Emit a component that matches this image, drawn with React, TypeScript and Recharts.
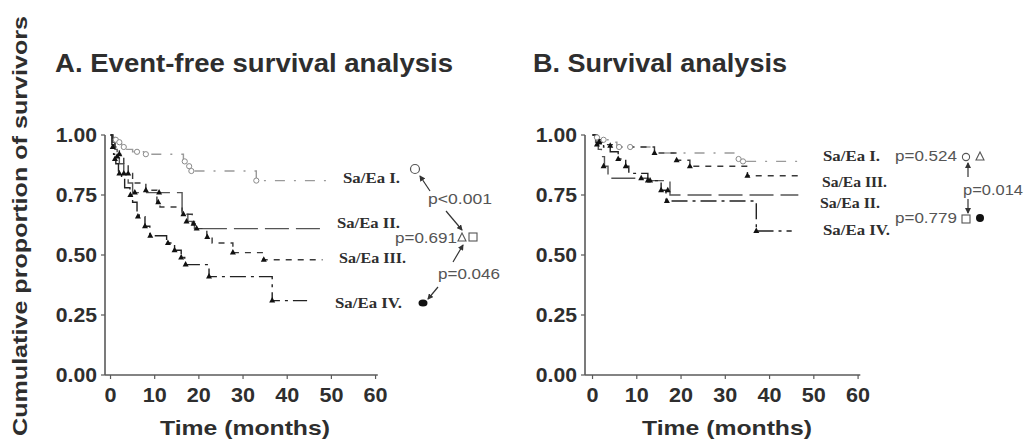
import React from 'react';
import { ComposedChart, Line, Scatter, XAxis, YAxis, ReferenceLine } from 'recharts';

// ---------- data ----------
const timeTicks = [0, 10, 20, 30, 40, 50, 60];
const survTicks = [0, 0.25, 0.5, 0.75, 1];
const groupLabels = ['Sa/Ea I.', 'Sa/Ea II.', 'Sa/Ea III.', 'Sa/Ea IV.'];

// A. Event-free survival (time in months, cumulative proportion)
const efsI = [[0, 1], [0.5, 0.99], [1, 0.98], [1.5, 0.97], [2.5, 0.96], [3.5, 0.94], [5, 0.93], [7.5, 0.92], [16.5, 0.89], [17.5, 0.87], [18.5, 0.85], [33, 0.81], [50, 0.81]];
const efsII = [[0, 1], [0.5, 0.97], [1, 0.94], [1.5, 0.91], [2, 0.88], [3, 0.84], [4, 0.8], [5, 0.76], [16.2, 0.67], [17.5, 0.64], [19, 0.61], [48, 0.61]];
const efsIII = [[0, 1], [0.5, 0.98], [1, 0.95], [2, 0.92], [3, 0.88], [4, 0.84], [5, 0.8], [8, 0.77], [10.5, 0.72], [11.2, 0.7], [16.2, 0.67], [18.5, 0.63], [19.5, 0.61], [21.8, 0.575], [23, 0.55], [27.7, 0.51], [34.5, 0.48], [48, 0.48]];
const efsIV = [[0, 1], [0.3, 0.96], [0.7, 0.92], [1.2, 0.88], [1.8, 0.85], [2.5, 0.82], [3.2, 0.78], [4.4, 0.75], [5, 0.72], [6, 0.68], [6.5, 0.66], [7.8, 0.62], [8.9, 0.58], [12.7, 0.55], [14.5, 0.52], [16, 0.49], [16.8, 0.46], [22.3, 0.41], [36.6, 0.31], [44.5, 0.31]];

const efsIcens = [[1.2, 0.98], [2, 0.97], [3, 0.95], [6, 0.93], [8, 0.92], [16.8, 0.89], [17.8, 0.87], [18.3, 0.85], [33, 0.81]];
const efsIIcens = [[1.5, 0.91], [3, 0.84], [5.5, 0.76], [11, 0.76], [17.2, 0.64], [19.5, 0.61]];
const efsIIIcens = [[2, 0.92], [4, 0.84], [8, 0.77], [10.8, 0.72], [16.5, 0.67], [18.8, 0.63], [21.9, 0.575], [27.7, 0.51], [34.7, 0.48]];
const efsIVcens = [[0.5, 0.95], [1, 0.9], [2, 0.84], [4.5, 0.75], [6.2, 0.66], [7.8, 0.62], [9, 0.58], [13, 0.55], [14.5, 0.52], [16, 0.49], [17, 0.46], [22.3, 0.41], [36.6, 0.31]];

// B. Overall survival
const osI = [[0, 1], [0.8, 0.99], [2, 0.98], [3.5, 0.97], [5.5, 0.95], [14, 0.925], [33, 0.9], [34.5, 0.89], [47.5, 0.89]];
const osII = [[0, 1], [0.7, 0.97], [1.3, 0.94], [2, 0.91], [2.7, 0.87], [3.5, 0.82], [12.5, 0.81], [17.5, 0.75], [46.5, 0.75]];
const osIII = [[0, 1], [0.5, 0.99], [1.5, 0.97], [3, 0.96], [5, 0.95], [14, 0.925], [19, 0.895], [22, 0.87], [35, 0.83], [47.5, 0.83]];
const osIV = [[0, 1], [1, 0.98], [2.5, 0.95], [4, 0.93], [5.8, 0.9], [7.5, 0.87], [8.2, 0.84], [12.5, 0.81], [15.5, 0.77], [16.6, 0.725], [37, 0.6], [45, 0.6]];

const osIcens = [[1, 0.99], [2.5, 0.98], [6, 0.95], [8.5, 0.95], [33, 0.9], [34, 0.89]];
const osIIcens = [[1, 0.96], [2.5, 0.87], [11, 0.82], [13, 0.81], [17, 0.77]];
const osIIIcens = [[1.5, 0.97], [4, 0.955], [14, 0.925], [19, 0.895], [22, 0.87], [35, 0.83]];
const osIVcens = [[1.5, 0.97], [5.8, 0.9], [7.5, 0.87], [12.5, 0.81], [15.5, 0.77], [16.8, 0.725], [37, 0.6]];

const toRows = (arr: number[][]) => arr.map(([t, s]) => ({ t, s }));

// ---------- styles ----------
const SANS = "'Liberation Sans', Arial, Helvetica, sans-serif";
const SERIF = "'Liberation Serif', 'Times New Roman', serif";
const AXIS = '#5a5a5a';
const TXT = '#2e2e2e';

const lineStyles = [
  { stroke: '#9a9a9a', dash: '10 9 2 9', width: 1.4 },
  { stroke: '#555555', dash: '24 7', width: 1.4 },
  { stroke: '#3a3a3a', dash: '6 6', width: 1.4 },
  { stroke: '#222222', dash: '16 5 3 5', width: 1.4 },
];

const XTick = (p: any) => (
  <g transform={`translate(${p.x},${p.y}) scale(1.08,1)`}>
    <text textAnchor="middle" dy="0.71em" fontSize={20} fontWeight="bold" fill={TXT} fontFamily={SANS}>
      {p.payload.value}
    </text>
  </g>
);
const YTick = (p: any) => (
  <g transform={`translate(${p.x},${p.y}) scale(1.06,1)`}>
    <text textAnchor="end" dy="0.36em" fontSize={20} fontWeight="bold" fill={TXT} fontFamily={SANS}>
      {Number(p.payload.value).toFixed(2)}
    </text>
  </g>
);

const OpenCircle = (p: any) => <circle cx={p.cx} cy={p.cy} r={2.6} fill="#fff" stroke="#8a8a8a" strokeWidth={1} />;
const Tri = (p: any) => (
  <polygon points={`${p.cx},${p.cy - 3.5} ${p.cx - 3},${p.cy + 2} ${p.cx + 3},${p.cy + 2}`} fill="#111" />
);

type PanelProps = {
  left: number;
  width: number;
  yAxisWidth: number;
  right: number;
  domain: [number, number];
  lines: number[][][];
  cens: number[][][];
};

function Panel({ left, width, yAxisWidth, right, domain, lines, cens }: PanelProps) {
  return (
    <div style={{ position: 'absolute', left, top: 0 }}>
      <ComposedChart width={width} height={441} margin={{ top: 135, right, bottom: 0, left: 0 }}>
        <XAxis
          dataKey="t"
          type="number"
          domain={domain}
          ticks={timeTicks}
          interval={0}
          allowDataOverflow
          axisLine={false}
          tickLine={{ stroke: AXIS, strokeWidth: 1.2 }}
          tickSize={4}
          tickMargin={9}
          height={66}
          tick={(p: any) => <XTick {...p} />}
        />
        <YAxis
          type="number"
          domain={[0, 1]}
          ticks={survTicks}
          interval={0}
          width={yAxisWidth}
          axisLine={{ stroke: AXIS, strokeWidth: 1.6 }}
          tickLine={{ stroke: AXIS, strokeWidth: 1.2 }}
          tickSize={4}
          tickMargin={4}
          tick={(p: any) => <YTick {...p} />}
        />
        <ReferenceLine
          segment={[{ x: domain[0], y: 0 }, { x: 60.5, y: 0 }]}
          stroke={AXIS}
          strokeWidth={1.6}
          ifOverflow="visible"
        />
        {lines.map((arr, i) => (
          <Line
            key={'l' + i}
            data={toRows(arr)}
            dataKey="s"
            type="stepAfter"
            stroke={lineStyles[i].stroke}
            strokeWidth={lineStyles[i].width}
            strokeDasharray={lineStyles[i].dash}
            dot={false}
            activeDot={false}
            isAnimationActive={false}
          />
        ))}
        {cens.map((arr, i) => (
          <Scatter
            key={'c' + i}
            data={toRows(arr)}
            dataKey="s"
            shape={i === 0 ? OpenCircle : Tri}
            isAnimationActive={false}
          />
        ))}
      </ComposedChart>
    </div>
  );
}

const Arrow = ({ x1, y1, x2, y2 }: { x1: number; y1: number; x2: number; y2: number }) => (
  <line x1={x1} y1={y1} x2={x2} y2={y2} stroke="#333" strokeWidth={1.2} markerEnd="url(#ah)" />
);

const GroupText = ({ x, y, w, children }: any) => (
  <text x={x} y={y} fontFamily={SERIF} fontWeight="bold" fontSize={14} fill={TXT} textLength={w} lengthAdjust="spacingAndGlyphs">
    {children}
  </text>
);
const PText = ({ x, y, w, children }: any) => (
  <text x={x} y={y} fontFamily={SANS} fontSize={14} fill="#555" textLength={w} lengthAdjust="spacingAndGlyphs">
    {children}
  </text>
);

export default function App() {
  return (
    <div style={{ position: 'relative', width: 1030, height: 441, background: '#fff', overflow: 'hidden' }}>
      <style>{'body{margin:0}'}</style>
      <Panel left={0} width={500} yAxisWidth={105} right={14} domain={[-1.25, 85]} lines={[efsI, efsII, efsIII, efsIV]} cens={[efsIcens, efsIIcens, efsIIIcens, efsIVcens]} />
      <Panel left={500} width={530} yAxisWidth={85} right={17} domain={[-1.7, 95]} lines={[osI, osII, osIII, osIV]} cens={[osIcens, osIIcens, osIIIcens, osIVcens]} />
      <svg width={1030} height={441} style={{ position: 'absolute', left: 0, top: 0, pointerEvents: 'none' }}>
        <defs>
          <marker id="ah" markerWidth="6" markerHeight="6" refX="5" refY="3" orient="auto" markerUnits="userSpaceOnUse">
            <path d="M0,0 L6,3 L0,6 z" fill="#333" />
          </marker>
        </defs>
        {/* y label */}
        <text transform="translate(27,226) rotate(-90)" textAnchor="middle" fontFamily={SANS} fontWeight="bold" fontSize={21} fill={TXT} textLength={420} lengthAdjust="spacingAndGlyphs">
          Cumulative proportion of survivors
        </text>
        {/* titles */}
        <text x={55} y={72} fontFamily={SANS} fontWeight="bold" fontSize={25} fill={TXT} textLength={398} lengthAdjust="spacingAndGlyphs">
          A. Event-free survival analysis
        </text>
        <text x={533} y={72} fontFamily={SANS} fontWeight="bold" fontSize={25} fill={TXT} textLength={254} lengthAdjust="spacingAndGlyphs">
          B. Survival analysis
        </text>
        {/* x labels */}
        <text x={160} y={435} fontFamily={SANS} fontWeight="bold" fontSize={21} fill={TXT} textLength={170} lengthAdjust="spacingAndGlyphs">
          Time (months)
        </text>
        <text x={642} y={435} fontFamily={SANS} fontWeight="bold" fontSize={21} fill={TXT} textLength={170} lengthAdjust="spacingAndGlyphs">
          Time (months)
        </text>

        {/* Panel A annotations */}
        <GroupText x={343} y={183} w={57}>{groupLabels[0]}</GroupText>
        <GroupText x={337} y={228} w={63}>{groupLabels[1]}</GroupText>
        <GroupText x={339} y={263} w={67}>{groupLabels[2]}</GroupText>
        <GroupText x={335} y={308} w={67}>{groupLabels[3]}</GroupText>
        <circle cx={415} cy={169} r={4.5} fill="#fff" stroke="#555" strokeWidth={1.2} />
        <PText x={428} y={204} w={64}>p&lt;0.001</PText>
        <PText x={395} y={243} w={62}>p=0.691</PText>
        <polygon points="462,233 458,241 466,241" fill="#fff" stroke="#555" strokeWidth={1.1} />
        <rect x={469} y={233} width={8} height={8} fill="#fff" stroke="#555" strokeWidth={1.1} />
        <PText x={438} y={279} w={62}>p=0.046</PText>
        <ellipse cx={423} cy={303} rx={4.5} ry={3.5} fill="#111" />
        <Arrow x1={430} y1={191} x2={420} y2={176} />
        <Arrow x1={446} y1={211} x2={462} y2={230} />
        <Arrow x1={438} y1={287} x2={428} y2={299} />
        <Arrow x1={453} y1={262} x2={463} y2={245} />

        {/* Panel B annotations */}
        <GroupText x={823} y={161} w={57}>{groupLabels[0]}</GroupText>
        <GroupText x={822} y={187} w={65}>{groupLabels[2]}</GroupText>
        <GroupText x={820} y={208} w={60}>{groupLabels[1]}</GroupText>
        <GroupText x={823} y={235} w={67}>{groupLabels[3]}</GroupText>
        <PText x={895} y={161} w={62}>p=0.524</PText>
        <circle cx={966} cy={157} r={3.6} fill="#fff" stroke="#555" strokeWidth={1.1} />
        <polygon points="980,152 976,160 984,160" fill="#fff" stroke="#555" strokeWidth={1.1} />
        <PText x={963} y={195} w={60}>p=0.014</PText>
        <Arrow x1={968} y1={177} x2={968} y2={163} />
        <Arrow x1={968} y1={199} x2={968} y2={213} />
        <PText x={895} y={223} w={62}>p=0.779</PText>
        <rect x={962} y={215} width={8} height={8} fill="#fff" stroke="#555" strokeWidth={1.1} />
        <circle cx={980} cy={218} r={4} fill="#111" />
      </svg>
    </div>
  );
}
